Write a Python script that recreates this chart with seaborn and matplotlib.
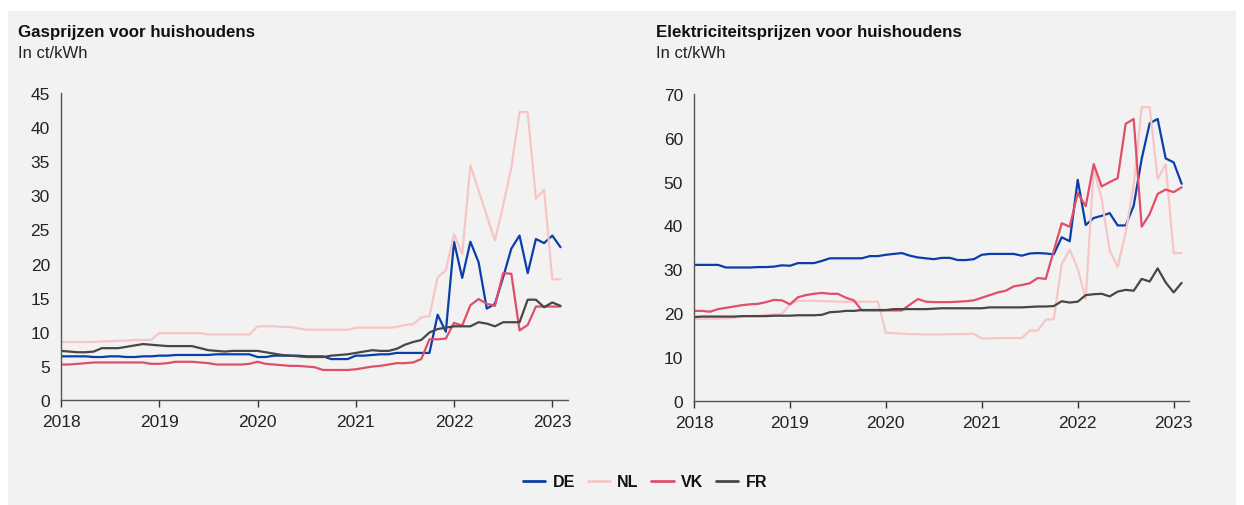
import matplotlib
matplotlib.use('Agg')
import matplotlib.pyplot as plt
import seaborn as sns
import pandas as pd
import numpy as np
from matplotlib.patches import Rectangle

# monthly values, Jan 2018 .. Feb 2023 (ct/kWh)
countries = ['DE', 'NL', 'VK', 'FR']
months = pd.date_range('2018-01-01', periods=62, freq='MS')

gas_de = [6.4, 6.4, 6.4, 6.4, 6.3, 6.3, 6.4, 6.4, 6.3, 6.3, 6.4, 6.4,
          6.5, 6.5, 6.6, 6.6, 6.6, 6.6, 6.6, 6.7, 6.7, 6.7, 6.7, 6.7,
          6.3, 6.3, 6.5, 6.5, 6.5, 6.5, 6.4, 6.4, 6.4, 6.0, 6.0, 6.0,
          6.5, 6.5, 6.6, 6.7, 6.7, 6.9, 6.9, 6.9, 6.9, 6.9, 12.5, 10.0,
          23.2, 17.9, 23.2, 20.2, 13.4, 14.1, 18.0, 22.2, 24.1, 18.6, 23.6, 23.0,
          24.1, 22.4]
gas_nl = [8.5, 8.5, 8.5, 8.5, 8.5, 8.6, 8.6, 8.7, 8.7, 8.8, 8.8, 8.8,
          9.8, 9.8, 9.8, 9.8, 9.8, 9.8, 9.6, 9.6, 9.6, 9.6, 9.6, 9.6,
          10.8, 10.8, 10.8, 10.7, 10.7, 10.5, 10.3, 10.3, 10.3, 10.3, 10.3, 10.3,
          10.6, 10.6, 10.6, 10.6, 10.6, 10.7, 11.0, 11.1, 12.1, 12.3, 18.0, 19.0,
          24.3, 21.4, 34.4, 30.7, 27.0, 23.4, 28.5, 34.1, 42.2, 42.2, 29.5, 30.8,
          17.7, 17.7]
gas_vk = [5.2, 5.2, 5.3, 5.4, 5.5, 5.5, 5.5, 5.5, 5.5, 5.5, 5.5, 5.3,
          5.3, 5.4, 5.6, 5.6, 5.6, 5.5, 5.4, 5.2, 5.2, 5.2, 5.2, 5.3,
          5.6, 5.3, 5.2, 5.1, 5.0, 5.0, 4.9, 4.8, 4.4, 4.4, 4.4, 4.4,
          4.5, 4.7, 4.9, 5.0, 5.2, 5.4, 5.4, 5.5, 6.0, 8.9, 8.9, 9.0,
          11.3, 10.9, 13.9, 14.8, 14.1, 13.8, 18.6, 18.5, 10.2, 11.0, 13.7, 13.7,
          13.7, 13.7]
gas_fr = [7.2, 7.1, 7.0, 7.0, 7.1, 7.6, 7.6, 7.6, 7.8, 8.0, 8.2, 8.1,
          8.0, 7.9, 7.9, 7.9, 7.9, 7.6, 7.3, 7.2, 7.1, 7.2, 7.2, 7.2,
          7.2, 7.0, 6.8, 6.6, 6.5, 6.4, 6.3, 6.3, 6.3, 6.5, 6.6, 6.7,
          6.9, 7.1, 7.3, 7.2, 7.2, 7.5, 8.1, 8.5, 8.8, 9.9, 10.4, 10.6,
          10.8, 10.8, 10.8, 11.4, 11.2, 10.8, 11.4, 11.4, 11.4, 14.7, 14.7, 13.6,
          14.3, 13.8]

el_de = [31.0, 31.0, 31.0, 31.0, 30.4, 30.4, 30.4, 30.4, 30.5, 30.5, 30.6, 30.9,
         30.8, 31.4, 31.4, 31.4, 31.9, 32.5, 32.5, 32.5, 32.5, 32.5, 33.0, 33.0,
         33.3, 33.5, 33.7, 33.1, 32.7, 32.5, 32.3, 32.6, 32.6, 32.1, 32.1, 32.3,
         33.3, 33.5, 33.5, 33.5, 33.5, 33.1, 33.6, 33.7, 33.6, 33.4, 37.3, 36.4,
         50.4, 40.1, 41.7, 42.2, 42.8, 40.0, 40.0, 44.5, 55.2, 63.3, 64.3, 55.3,
         54.4, 49.5]
el_nl = [18.7, 18.7, 18.7, 18.7, 18.8, 18.9, 19.2, 19.3, 19.4, 19.6, 19.7, 19.8,
         22.0, 22.8, 22.8, 22.8, 22.7, 22.7, 22.6, 22.6, 22.6, 22.6, 22.6, 22.6,
         15.5, 15.4, 15.3, 15.2, 15.2, 15.1, 15.1, 15.1, 15.2, 15.2, 15.2, 15.3,
         14.2, 14.2, 14.3, 14.3, 14.3, 14.3, 16.0, 16.0, 18.5, 18.6, 31.2, 34.5,
         30.1, 23.2, 53.0, 46.0, 34.2, 30.6, 38.4, 49.1, 67.0, 67.0, 50.6, 54.0,
         33.7, 33.7]
el_vk = [20.5, 20.5, 20.3, 20.9, 21.2, 21.5, 21.8, 22.0, 22.1, 22.5, 23.0, 22.9,
         22.0, 23.6, 24.1, 24.4, 24.6, 24.4, 24.4, 23.5, 22.9, 20.6, 20.6, 20.6,
         20.6, 20.6, 20.6, 21.9, 23.2, 22.6, 22.5, 22.5, 22.5, 22.6, 22.7, 22.9,
         23.5, 24.1, 24.7, 25.1, 26.1, 26.4, 26.8, 28.0, 27.8, 34.2, 40.5, 39.7,
         47.4, 44.4, 54.0, 48.9, 49.9, 50.8, 63.2, 64.3, 39.7, 42.6, 47.2, 48.2,
         47.6, 48.7]
el_fr = [19.1, 19.2, 19.2, 19.2, 19.2, 19.2, 19.3, 19.3, 19.3, 19.3, 19.4, 19.4,
         19.4, 19.5, 19.5, 19.5, 19.6, 20.2, 20.3, 20.5, 20.5, 20.7, 20.7, 20.7,
         20.7, 20.9, 20.9, 20.9, 20.9, 20.9, 21.0, 21.1, 21.1, 21.1, 21.1, 21.1,
         21.1, 21.3, 21.3, 21.3, 21.3, 21.3, 21.4, 21.5, 21.5, 21.6, 22.7, 22.4,
         22.6, 24.1, 24.3, 24.4, 23.8, 24.9, 25.3, 25.1, 27.8, 27.2, 30.2, 27.0,
         24.7, 26.9]

year_ticks = [2018, 2019, 2020, 2021, 2022, 2023]
palette = {'DE': '#0a3ea8', 'NL': '#f6c6c6', 'VK': '#df4f69', 'FR': '#474747'}

# decimal years for a numeric x axis
x_years = months.year + (months.month - 1) / 12


def to_long(series):
    frames = [pd.DataFrame({'jaar': x_years, 'land': c, 'waarde': series[c]}) for c in countries]
    return pd.concat(frames, ignore_index=True)


gas = to_long({'DE': gas_de, 'NL': gas_nl, 'VK': gas_vk, 'FR': gas_fr})
elec = to_long({'DE': el_de, 'NL': el_nl, 'VK': el_vk, 'FR': el_fr})

sns.set_theme(style='white')
plt.rcParams['font.family'] = ['Liberation Sans', 'DejaVu Sans']

fig = plt.figure(figsize=(12.44, 5.06), dpi=100, facecolor='white')
fig.patches.append(Rectangle((8 / 1244, 0), 1228 / 1244, 494 / 506, transform=fig.transFigure,
                             facecolor='#f2f2f2', edgecolor='none', zorder=-10))

ax1 = fig.add_axes([61 / 1244, 105 / 506, 507 / 1244, 307 / 506])
ax2 = fig.add_axes([694 / 1244, 104.3 / 506, 495 / 1244, 306.7 / 506])

sns.lineplot(data=gas, x='jaar', y='waarde', hue='land', hue_order=countries,
             palette=palette, linewidth=1.6, ax=ax1)
sns.lineplot(data=elec, x='jaar', y='waarde', hue='land', hue_order=countries,
             palette=palette, linewidth=1.6, ax=ax2, legend=False)

for ax, ymax, step in [(ax1, 45, 5), (ax2, 70, 10)]:
    ax.set_facecolor('none')
    ax.set_xlim(2018, 2023.16)
    ax.set_ylim(0, ymax)
    ax.set_yticks(np.arange(0, ymax + 1, step))
    ax.set_xticks(year_ticks)
    ax.set_xticklabels([str(y) for y in year_ticks])
    ax.set_xlabel('')
    ax.set_ylabel('')
    sns.despine(ax=ax)
    for s in ['left', 'bottom']:
        ax.spines[s].set_color('#555555')
        ax.spines[s].set_linewidth(1.0)
    ax.tick_params(axis='y', length=0, pad=8, labelsize=12.5, labelcolor='#222222')
    ax.tick_params(axis='x', length=5, width=1, color='#333333', direction='out',
                   pad=5, labelsize=12.5, labelcolor='#222222', bottom=True)

fig.text(18 / 1244, 1 - 33 / 506, 'Gasprijzen voor huishoudens', fontsize=12.2,
         fontweight='bold', va='center', color='#111111')
fig.text(18 / 1244, 1 - 53 / 506, 'In ct/kWh', fontsize=12, va='center', color='#222222')
fig.text(656 / 1244, 1 - 33 / 506, 'Elektriciteitsprijzen voor huishoudens', fontsize=12.2,
         fontweight='bold', va='center', color='#111111')
fig.text(656 / 1244, 1 - 53 / 506, 'In ct/kWh', fontsize=12, va='center', color='#222222')

handles, labels = ax1.get_legend_handles_labels()
ax1.get_legend().remove()
for h in handles:
    h.set_linewidth(2)
fig.legend(handles, labels, loc='center', bbox_to_anchor=(645 / 1244, 23 / 506), ncol=4,
           frameon=False, handlelength=1.4, handletextpad=0.45, columnspacing=0.8,
           labelcolor='#111111', prop={'weight': 'bold', 'size': 11.5})

fig.savefig('out.png', dpi=100, facecolor='white')
